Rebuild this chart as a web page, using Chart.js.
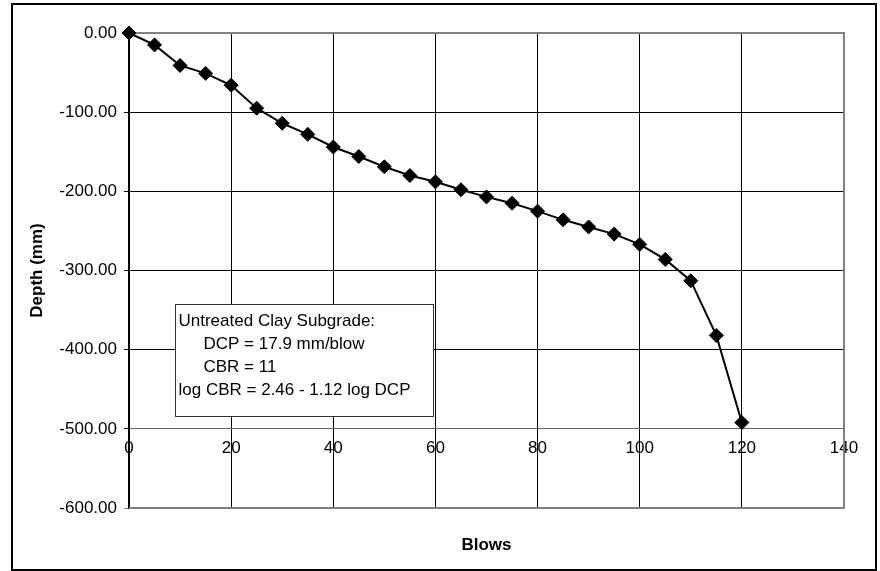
<!DOCTYPE html>
<html>
<head>
<meta charset="utf-8">
<title>DCP Test - Blows vs Depth</title>
<script src="https://cdn.jsdelivr.net/npm/chart.js@4.4.1/dist/chart.umd.min.js"></script>
<style>
    html, body { margin: 0; padding: 0; background: #fff; }
    canvas { display: block; }
</style>
</head>
<body>
<canvas id="dcpChart" width="880" height="571"></canvas>
<script>
// Blows (x) and penetration depth in mm (y)
const blows = [0, 5, 10, 15, 20, 25, 30, 35, 40, 45, 50, 55, 60, 65, 70, 75, 80, 85, 90, 95, 100, 105, 110, 115, 120];
const depth = [0, -15, -41, -51, -66, -95, -114, -128, -144, -156, -169, -180, -188, -198, -207, -215, -225, -236, -245, -254, -267, -286, -313, -382, -492];

const xTicks = [0, 20, 40, 60, 80, 100, 120, 140];
const yTicks = [0, -100, -200, -300, -400, -500, -600];

const noteLines = [
    'Untreated Clay Subgrade:',
    '    DCP = 17.9 mm/blow',
    '    CBR = 11',
    'log CBR = 2.46 - 1.12 log DCP'
];

const FONT = '"Liberation Sans", Arial, sans-serif';

// outer frame, axis titles and the text box with the test result
const decorPlugin = {
    id: 'decor',
    beforeDraw(chart) {
        const ctx = chart.ctx;
        ctx.save();
        ctx.fillStyle = '#fff';
        ctx.fillRect(0, 0, chart.width, chart.height);
        ctx.restore();
    },
    beforeDatasetsDraw(chart) {
        const ctx = chart.ctx;
        const area = chart.chartArea;
        ctx.save();
        // plot area border (gray) on top, right and bottom
        ctx.strokeStyle = '#808080';
        ctx.lineWidth = 2;
        ctx.beginPath();
        ctx.moveTo(area.left, area.top);
        ctx.lineTo(area.right, area.top);
        ctx.lineTo(area.right, area.bottom);
        ctx.lineTo(area.left, area.bottom);
        ctx.stroke();
        ctx.restore();
    },
    afterDraw(chart) {
        const ctx = chart.ctx;
        const area = chart.chartArea;
        const xs = chart.scales.x;
        const ys = chart.scales.y;
        ctx.save();

        // outer black frame
        ctx.strokeStyle = '#000';
        ctx.lineWidth = 2;
        ctx.strokeRect(12, 4, 864, 566);

        // axis titles
        ctx.fillStyle = '#000';
        ctx.font = 'bold 17px ' + FONT;
        ctx.textAlign = 'center';
        ctx.textBaseline = 'middle';
        ctx.fillText('Blows', (area.left + area.right) / 2, 545);
        ctx.save();
        ctx.translate(37, (area.top + area.bottom) / 2);
        ctx.rotate(-Math.PI / 2);
        ctx.fillText('Depth (mm)', 0, 0);
        ctx.restore();

        // text box, anchored at about 9 blows / -342 mm
        const bx = Math.round(xs.getPixelForValue(9.0)) + 0.5;
        const by = Math.round(ys.getPixelForValue(-342)) + 0.5;
        const bw = 258, bh = 112;
        ctx.fillStyle = '#fff';
        ctx.fillRect(bx, by, bw, bh);
        ctx.strokeStyle = '#333';
        ctx.lineWidth = 1;
        ctx.strokeRect(bx, by, bw, bh);
        ctx.fillStyle = '#000';
        ctx.font = '17px ' + FONT;
        ctx.textAlign = 'left';
        ctx.textBaseline = 'middle';
        noteLines.forEach((line, i) => {
            const indent = line.startsWith('    ') ? 28 : 3;
            ctx.fillText(line.trim(), bx + indent, by + 17 + i * 23);
        });

        ctx.restore();
    }
};

const ctx = document.getElementById('dcpChart').getContext('2d');
const chart = new Chart(ctx, {
    type: 'line',
    data: {
        datasets: [{
            label: 'DCP',
            data: blows.map((b, i) => ({ x: b, y: depth[i] })),
            borderColor: '#000',
            backgroundColor: '#000',
            borderWidth: 2,
            pointStyle: 'rectRot',
            pointRadius: 7,
            pointBorderWidth: 1,
            pointBackgroundColor: '#000',
            pointBorderColor: '#000',
            clip: false,
            tension: 0
        }]
    },
    options: {
        responsive: false,
        maintainAspectRatio: false,
        devicePixelRatio: 1,
        animation: false,
        layout: {
            padding: { left: 0, top: 33, right: 36, bottom: 63 }
        },
        plugins: {
            legend: { display: false },
            tooltip: { enabled: false }
        },
        scales: {
            x: {
                type: 'linear',
                position: { y: -500 },
                min: 0,
                max: 140,
                afterBuildTicks: (scale) => { scale.ticks = xTicks.map(v => ({ value: v })); },
                ticks: {
                    color: '#000',
                    font: { family: FONT, size: 17 },
                    padding: 4,
                    maxRotation: 0
                },
                grid: {
                    color: (c) => c.tick && c.tick.value === 140 ? '#808080' : '#000',
                    lineWidth: (c) => c.tick && c.tick.value === 140 ? 2 : 1,
                    tickLength: 5,
                    drawTicks: true
                },
                border: { display: true, color: '#666', width: 1 }
            },
            y: {
                type: 'linear',
                position: 'left',
                min: -600,
                max: 0,
                afterBuildTicks: (scale) => { scale.ticks = yTicks.map(v => ({ value: v })); },
                afterFit: (scale) => { scale.width = 129; },
                ticks: {
                    color: '#000',
                    font: { family: FONT, size: 17 },
                    padding: 7,
                    callback: (v) => Number(v).toFixed(2)
                },
                grid: {
                    color: (c) => {
                        if (!c.tick) return '#000';
                        if (c.tick.value === 0 || c.tick.value === -600) return '#808080';
                        return '#000';
                    },
                    tickLength: 5,
                    drawTicks: true
                },
                border: { display: true, color: '#000', width: 2 }
            }
        }
    },
    plugins: [decorPlugin]
});
</script>
</body>
</html>
